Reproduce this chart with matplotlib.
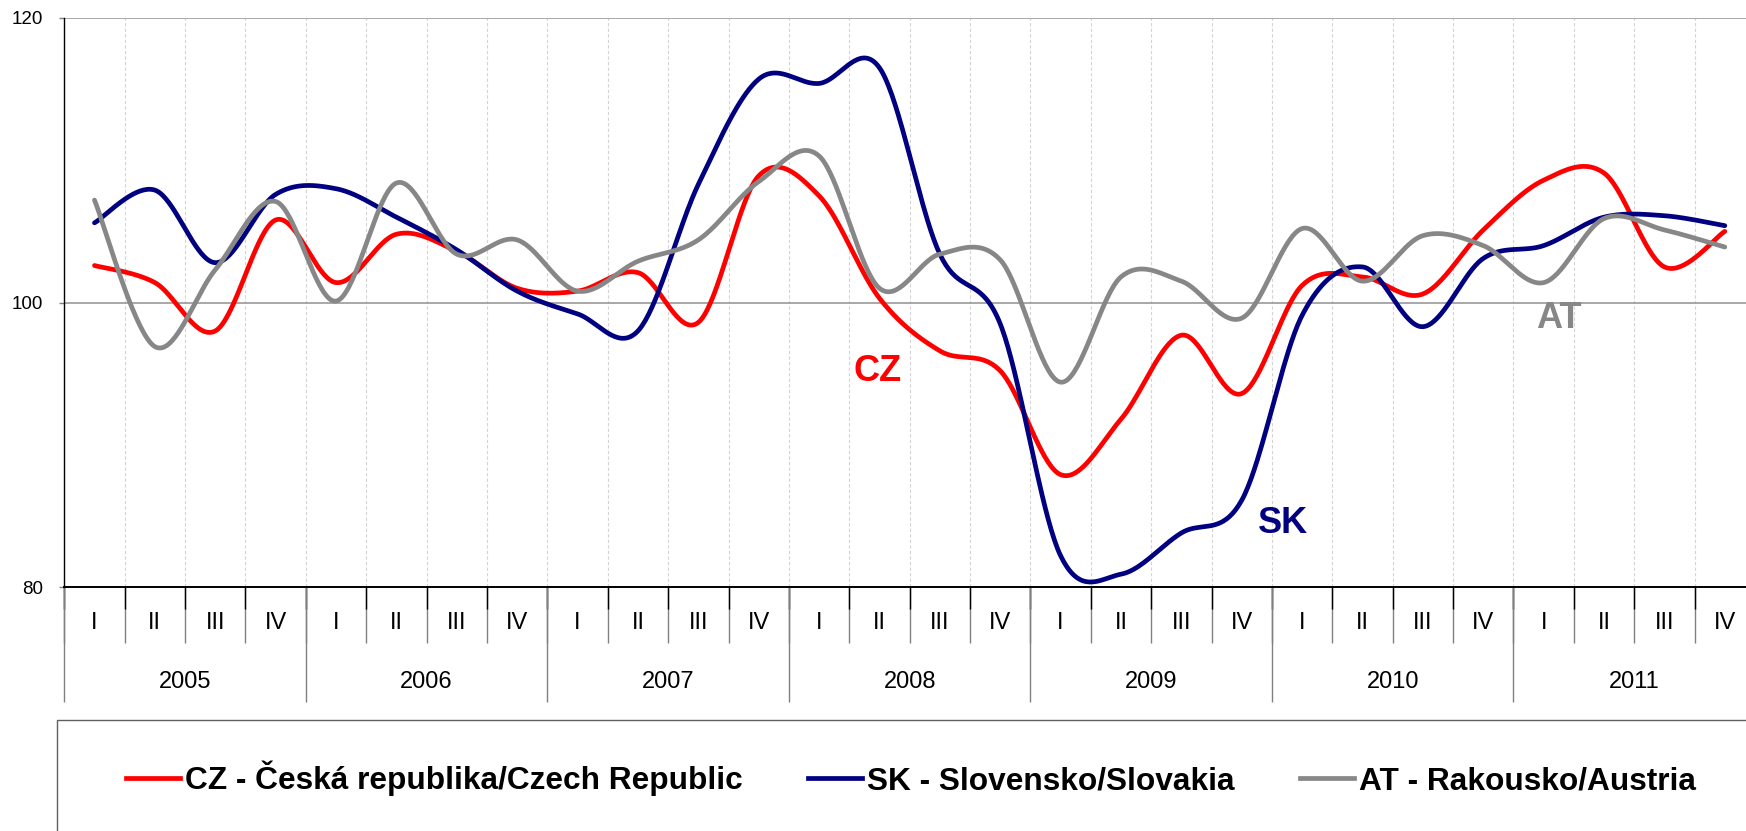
import numpy as np
import matplotlib.pyplot as plt
from matplotlib.lines import Line2D
from matplotlib.patches import Rectangle

plt.rcParams['font.family'] = ['Liberation Sans', 'DejaVu Sans']

years = ['2005', '2006', '2007', '2008', '2009', '2010', '2011']
quarters = ['I', 'II', 'III', 'IV'] * len(years)

cz = [102.6, 101.4, 98.0, 105.8, 101.4, 104.8, 103.6, 101.0, 100.8, 102.1,
      98.6, 108.9, 107.5, 100.3, 96.6, 95.2, 87.9, 91.8, 97.7, 93.6,
      101.2, 101.8, 100.6, 105.1, 108.6, 109.1, 102.5, 105.0]
sk = [105.6, 107.9, 102.8, 107.6, 108.0, 106.0, 103.7, 100.8, 99.2, 98.0,
      108.3, 115.7, 115.4, 116.5, 103.4, 98.5, 82.2, 80.9, 83.8, 86.1,
      99.1, 102.5, 98.3, 103.1, 104.0, 106.0, 106.1, 105.4]
at = [107.2, 96.9, 102.3, 107.1, 100.1, 108.4, 103.4, 104.4, 100.8, 102.9,
      104.4, 108.5, 110.3, 101.0, 103.4, 103.0, 94.4, 101.8, 101.5, 98.9,
      105.2, 101.5, 104.7, 104.0, 101.4, 105.9, 105.1, 103.9]

legend_labels = ['CZ - Česká republika/Czech Republic',
                 'SK - Slovensko/Slovakia',
                 'AT - Rakousko/Austria']
short_labels = ['CZ', 'SK', 'AT']
colors = ['#ff0000', '#000080', '#878787']


def smooth(values, steps=40):
    # excel style smoothed line, bezier segments through every point
    p = np.asarray(values, dtype=float)
    n = len(p)
    x = np.arange(n, dtype=float)
    t = np.linspace(0, 1, steps)[:, None]
    xs, ys = [], []
    for i in range(n - 1):
        i0 = max(i - 1, 0)
        i3 = min(i + 2, n - 1)
        P0 = np.array([x[i], p[i]])
        P3 = np.array([x[i + 1], p[i + 1]])
        P1 = P0 + (np.array([x[i + 1], p[i + 1]]) - np.array([x[i0], p[i0]])) / 6
        P2 = P3 - (np.array([x[i3], p[i3]]) - np.array([x[i], p[i]])) / 6
        b = ((1 - t) ** 3) * P0 + 3 * ((1 - t) ** 2) * t * P1 + 3 * (1 - t) * t ** 2 * P2 + t ** 3 * P3
        xs.append(b[:, 0])
        ys.append(b[:, 1])
    return np.concatenate(xs), np.concatenate(ys)


W, H = 1746, 831
fig = plt.figure(figsize=(W / 100, H / 100), dpi=100)
ax = fig.add_axes([64.3 / W, (H - 587) / H, (1755 - 64.3) / W, (587 - 18) / H])

n = len(quarters)
bounds = np.arange(n + 1) - 0.5

ax.vlines(bounds[1:], 80, 120, colors='#d4d4d4', lw=0.8, linestyles=(0, (3, 2)), zorder=0)
ax.set_xlim(-0.5, n - 0.5)
ax.set_ylim(80, 120)
ax.set_yticks([80, 100, 120])
ax.yaxis.grid(True, color='#9a9a9a', lw=1.2, zorder=0)
ax.set_axisbelow(True)
ax.set_xticks([])
ax.tick_params(axis='y', length=3.6, width=1, color='#808080', pad=12, labelsize=13.5)

for side in ['top', 'right']:
    ax.spines[side].set_visible(False)
ax.spines['left'].set_color('black')
ax.spines['left'].set_linewidth(1.0)
ax.spines['bottom'].set_color('black')
ax.spines['bottom'].set_linewidth(1.4)

for vals, c in zip([cz, sk, at], colors):
    xs, ys = smooth(vals)
    ax.plot(xs, ys, color=c, lw=3.4, solid_capstyle='round')

# labels on the lines
label_pos = [(12.97, 95.16), (19.68, 84.44), (24.25, 98.87)]
for (lx, ly), txt, c in zip(label_pos, short_labels, colors):
    ax.text(lx, ly, txt, color=c, fontsize=26, fontweight='bold', ha='center', va='center')

# two level category axis
trans = ax.get_xaxis_transform()
ax.vlines(bounds, 0, -0.099, transform=trans, colors='#808080', lw=1, clip_on=False)
ax.vlines(bounds, 0, -0.039, transform=trans, colors='black', lw=1, clip_on=False)
ax.vlines(bounds[::4], 0, -0.2016, transform=trans, colors='#808080', lw=1, clip_on=False)
for i, q in enumerate(quarters):
    ax.text(i, -0.0638, q, transform=trans, ha='center', va='center', fontsize=17)
for k, yr in enumerate(years):
    ax.text(4 * k + 1.5, -0.1664, yr, transform=trans, ha='center', va='center', fontsize=17)

# legend in an open box at the bottom
fig.add_artist(Rectangle((57.4 / W, -0.05), 1.0, 0.05 + 1 - 720 / H,
                         transform=fig.transFigure, fill=False, ec='#606060', lw=1.0))
handles = [Line2D([], [], color=c, lw=3.4) for c in colors]
fig.legend(handles, legend_labels, loc='center', bbox_to_anchor=(911 / W, 1 - 778.5 / H),
           ncol=3, frameon=False, prop={'weight': 'bold', 'size': 22.8},
           handlelength=1.7, handletextpad=0.16, columnspacing=2.07)

fig.savefig('out.png', dpi=100)
